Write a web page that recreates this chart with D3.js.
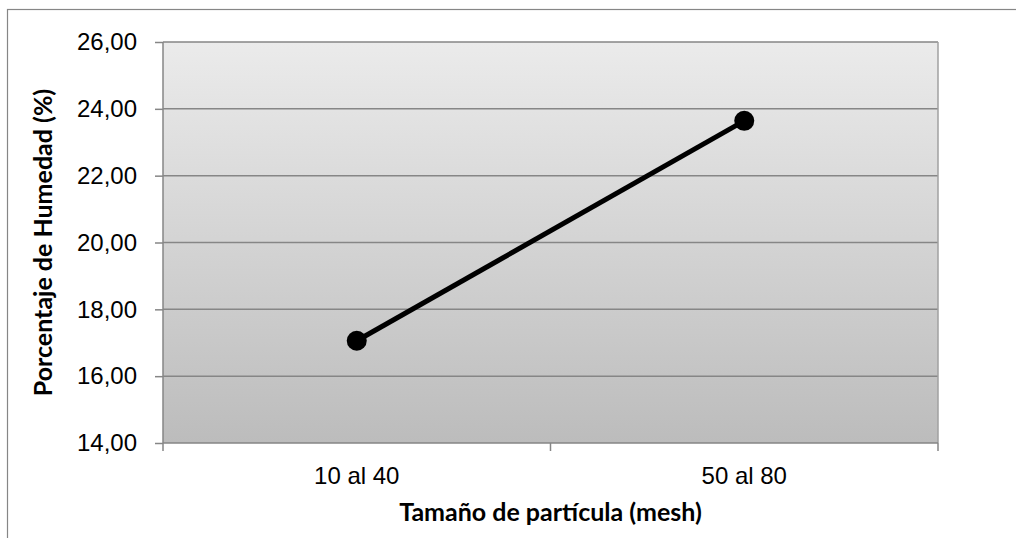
<!DOCTYPE html>
<html>
<head>
<meta charset="utf-8">
<script src="https://cdn.jsdelivr.net/npm/d3@7"></script>
<style>
  body { margin: 0; background: #fff; }
  svg { display: block; font-family: Lato, 'Open Sans', sans-serif; }
</style>
</head>
<body>
<div id="chart"></div>
<script>
// chart data
const categories = ['10 al 40', '50 al 80'];
const humedad = [17.06, 23.64];
const yTicks = [14, 16, 18, 20, 22, 24, 26];

const W = 1016, H = 538;
const margin = { top: 42, right: 78, bottom: 95, left: 163 };
const width = W - margin.left - margin.right;
const height = H - margin.top - margin.bottom;

const svg = d3.select('#chart')
  .append('svg')
  .attr('width', W)
  .attr('height', H);

// outer chart border
svg.append('rect')
  .attr('x', 7.5).attr('y', 9.5)
  .attr('width', W).attr('height', H)
  .attr('fill', 'none')
  .attr('stroke', '#868686')
  .attr('stroke-width', 1.2);

const defs = svg.append('defs');
const grad = defs.append('linearGradient')
  .attr('id', 'bg')
  .attr('x1', 0).attr('y1', 0).attr('x2', 0).attr('y2', 1);
grad.append('stop').attr('offset', '0%').attr('stop-color', '#ebebeb');
grad.append('stop').attr('offset', '100%').attr('stop-color', '#bcbcbc');

const g = svg.append('g')
  .attr('transform', `translate(${margin.left},${margin.top})`);

const x = d3.scaleBand()
  .domain(categories)
  .range([0, width]);

const y = d3.scaleLinear()
  .domain([14, 26])
  .range([height, 0]);

g.append('rect')
  .attr('width', width)
  .attr('height', height)
  .attr('fill', 'url(#bg)');

// gridlines
g.append('g')
  .selectAll('line')
  .data(yTicks.slice(1))
  .enter()
  .append('line')
  .attr('x1', 0).attr('x2', width)
  .attr('y1', d => y(d)).attr('y2', d => y(d))
  .attr('stroke', '#868686')
  .attr('stroke-width', 1.5);

// right edge of plot area
g.append('line')
  .attr('x1', width).attr('x2', width)
  .attr('y1', 0).attr('y2', height)
  .attr('stroke', '#a0a0a0')
  .attr('stroke-width', 1.5);

// y axis
const yAxis = g.append('g')
  .call(d3.axisLeft(y).tickValues(yTicks).tickSize(8).tickPadding(18)
    .tickFormat(d => d3.format('.2f')(d).replace('.', ',')));
yAxis.selectAll('text').style('font-size', '24px').attr('fill', '#000');
yAxis.selectAll('line, path').attr('stroke', '#868686').attr('stroke-width', 1.5);
yAxis.select('path').attr('d', `M0,0V${height}`);

// x axis
const xAxis = g.append('g')
  .attr('transform', `translate(0,${height})`)
  .call(d3.axisBottom(x).tickSize(0).tickPadding(24));
xAxis.selectAll('text').style('font-size', '24px').attr('fill', '#000');
xAxis.select('path').attr('d', `M0,0H${width}`).attr('stroke', '#868686').attr('stroke-width', 1.5);

// x tick marks at category boundaries
g.append('g')
  .selectAll('line')
  .data([0, ...categories.map(c => x(c) + x.bandwidth())])
  .enter()
  .append('line')
  .attr('x1', d => d).attr('x2', d => d)
  .attr('y1', height).attr('y2', height + 8)
  .attr('stroke', '#868686')
  .attr('stroke-width', 1.5);

// series line
const pts = categories.map((c, i) => [x(c) + x.bandwidth() / 2, y(humedad[i])]);
g.append('path')
  .datum(pts)
  .attr('d', d3.line())
  .attr('fill', 'none')
  .attr('stroke', '#000')
  .attr('stroke-width', 5);

g.selectAll('circle')
  .data(pts)
  .enter()
  .append('circle')
  .attr('cx', d => d[0])
  .attr('cy', d => d[1])
  .attr('r', 10)
  .attr('fill', '#000');

// axis titles
svg.append('text')
  .attr('transform', `translate(52,${margin.top + height / 2}) rotate(-90)`)
  .attr('text-anchor', 'middle')
  .style('font-size', '25px')
  .style('font-weight', 'bold')
  .text('Porcentaje de Humedad (%)');

svg.append('text')
  .attr('x', margin.left + width / 2)
  .attr('y', 521)
  .attr('text-anchor', 'middle')
  .style('font-size', '25px')
  .style('font-weight', 'bold')
  .text('Tamaño de partícula (mesh)');
</script>
</body>
</html>
